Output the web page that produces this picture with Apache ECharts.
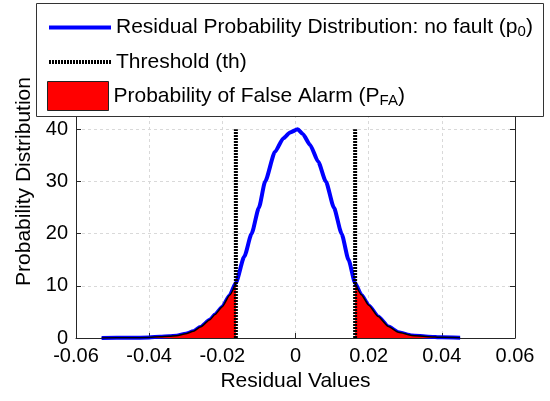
<!DOCTYPE html>
<html>
<head>
<meta charset="utf-8">
<script src="https://cdn.jsdelivr.net/npm/echarts@6/dist/echarts.min.js"></script>
<style>
html,body{margin:0;padding:0;background:#fff;}
#chart{width:550px;height:401px;}
</style>
</head>
<body>
<div id="chart"></div>
<script>
// ---- data ----
var residual = [-0.053, -0.045, -0.040, -0.037, -0.0345, -0.0325, -0.030, -0.0279, -0.026, -0.0234, -0.022, -0.020, -0.018, -0.0163, -0.014, -0.012, -0.010, -0.0083, -0.0056, -0.0033, -0.0015, 0.0006, 0.002, 0.004, 0.0062, 0.0083, 0.0105, 0.0126, 0.0145, 0.0163, 0.018, 0.020, 0.0226, 0.0254, 0.0281, 0.0318, 0.0363, 0.040, 0.045];
var density = [0.02, 0.04, 0.1, 0.25, 0.35, 0.45, 0.8, 1.3, 2.1, 3.5, 4.5, 6.0, 8.2, 10.6, 15.6, 20.0, 25.0, 30.0, 35.7, 38.3, 39.4, 40.0, 39.1, 37.0, 33.8, 30.0, 25.0, 20.0, 15.0, 10.5, 8.3, 6.3, 4.1, 2.2, 1.1, 0.5, 0.25, 0.12, 0.05];
var thresholds = [-0.0163, 0.0163];
var thresholdTop = 40;
var xTicks = [-0.06, -0.04, -0.02, 0, 0.02, 0.04, 0.06];
var yTicks = [0, 10, 20, 30, 40];

var nameCurve = 'Residual Probability Distribution: no fault (p0)';
var nameTh = 'Threshold (th)';
var nameFA = 'Probability of False Alarm (PFA)';

var curve = residual.map(function (x, i) { return [x, density[i]]; });
var leftTail = curve.filter(function (p) { return p[0] <= thresholds[0]; });
var rightTail = curve.filter(function (p) { return p[0] >= thresholds[1]; });

var FONT = '"Liberation Sans", Arial, sans-serif';
var AX = '#262626';

var richStyles = {
  m: { fontFamily: FONT, fontSize: 21, color: '#000', lineHeight: 24, verticalAlign: 'middle' },
  s: { fontFamily: FONT, fontSize: 15, color: '#000', lineHeight: 17, padding: [16, 0, 0, 0], verticalAlign: 'bottom' }
};

var chart = echarts.init(document.getElementById('chart'), null, { renderer: 'canvas' });
chart.setOption({
  animation: false,
  backgroundColor: '#fff',
  grid: { left: 76, right: 35, top: 25, bottom: 63, containLabel: false },
  xAxis: {
    type: 'value', min: -0.06, max: 0.06, interval: 0.02,
    name: 'Residual Values', nameLocation: 'middle', nameGap: 33,
    nameTextStyle: { fontFamily: FONT, fontSize: 21, color: '#000' },
    axisLine: { onZero: false, lineStyle: { color: AX, width: 1 } },
    axisTick: { inside: true, length: 5, lineStyle: { color: AX } },
    axisLabel: {
      fontFamily: FONT, fontSize: 20, color: '#000', margin: 8,
      formatter: function (v) {
        var best = xTicks.reduce(function (a, b) { return Math.abs(b - v) < Math.abs(a - v) ? b : a; });
        return best === 0 ? '0' : best.toFixed(2);
      }
    },
    splitLine: { show: true, lineStyle: { color: '#d9d9d9', type: [3, 3], width: 1 } }
  },
  yAxis: [{
    type: 'value', min: 0, max: 60, interval: 10, position: 'left',
    name: 'Probability Distribution', nameLocation: 'middle', nameGap: 38,
    nameTextStyle: { fontFamily: FONT, fontSize: 21, color: '#000' },
    axisLine: { show: true, onZero: false, lineStyle: { color: AX, width: 1 } },
    axisTick: { show: true, inside: true, length: 5, lineStyle: { color: AX } },
    axisLabel: { fontFamily: FONT, fontSize: 20, color: '#000', margin: 8 },
    splitLine: { show: true, lineStyle: { color: '#d9d9d9', type: [3, 3], width: 1 } }
  }, {
    type: 'value', min: 0, max: 60, interval: 10, position: 'right',
    axisLine: { show: true, onZero: false, lineStyle: { color: AX, width: 1 } },
    axisTick: { show: true, inside: true, length: 5, lineStyle: { color: AX } },
    axisLabel: { show: false },
    splitLine: { show: false }
  }],
  graphic: [{
    type: 'rect', z: 10,
    shape: { x: 36.5, y: 3.5, width: 507, height: 113 },
    style: { fill: '#fff', stroke: '#333', lineWidth: 1 }
  }],
  legend: [{
    data: [nameCurve], left: 47, top: 8.5, padding: 0, z: 11,
    itemWidth: 62, itemHeight: 1, selectedMode: false,
    lineStyle: { width: 4, color: '#0000ff' },
    textStyle: { rich: richStyles },
    formatter: function () { return '{m|Residual Probability Distribution: no fault (p}{s|0}{m|)}'; }
  }, {
    data: [nameTh], left: 47, top: 50, padding: 0, z: 11,
    itemWidth: 62, itemHeight: 1, selectedMode: false,
    lineStyle: { width: 4, color: '#000', type: [2, 1], cap: 'butt' },
    textStyle: { fontFamily: FONT, fontSize: 21, color: '#000', lineHeight: 24 }
  }, {
    data: [{ name: nameFA, icon: 'rect', itemStyle: { color: '#ff0000', borderColor: '#222', borderWidth: 1 } }],
    left: 47, top: 77, padding: 0, z: 11,
    itemWidth: 61, itemHeight: 29, selectedMode: false,
    textStyle: { rich: richStyles },
    formatter: function () { return '{m|Probability of False Alarm (P}{s|FA}{m|)}'; }
  }],
  series: [{
    name: nameCurve, type: 'line', data: curve, symbol: 'none', z: 2,
    smooth: 0.2, smoothMonotone: 'x',
    lineStyle: { color: '#0000ff', width: 4 }, itemStyle: { color: '#0000ff' }
  }, {
    name: nameFA, type: 'line', data: leftTail, symbol: 'none', z: 3,
    smooth: 0.2, smoothMonotone: 'x',
    lineStyle: { color: '#000', width: 1.5 }, itemStyle: { color: '#ff0000' },
    areaStyle: { color: '#ff0000', opacity: 1 }
  }, {
    name: nameFA, type: 'line', data: rightTail, symbol: 'none', z: 3,
    smooth: 0.2, smoothMonotone: 'x',
    lineStyle: { color: '#000', width: 1.5 }, itemStyle: { color: '#ff0000' },
    areaStyle: { color: '#ff0000', opacity: 1 }
  }, {
    name: nameTh, type: 'line', data: [[thresholds[0], 0], [thresholds[0], thresholdTop]], symbol: 'none', z: 4,
    lineStyle: { color: '#000', width: 4, type: [2, 1], cap: 'butt' }, itemStyle: { color: '#000' }
  }, {
    name: nameTh, type: 'line', data: [[thresholds[1], 0], [thresholds[1], thresholdTop]], symbol: 'none', z: 4,
    lineStyle: { color: '#000', width: 4, type: [2, 1], cap: 'butt' }, itemStyle: { color: '#000' }
  }]
});
</script>
</body>
</html>
